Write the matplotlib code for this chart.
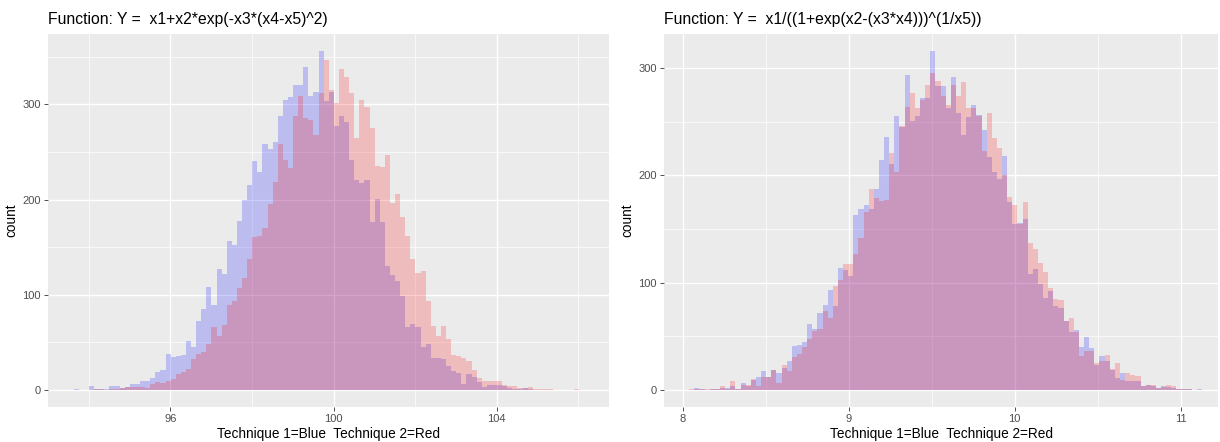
import numpy as np
import matplotlib
matplotlib.use("Agg")
import matplotlib.pyplot as plt

plt.rcParams['font.family'] = ['Liberation Sans', 'DejaVu Sans']

# ---------------- data ----------------
title_left = "Function: Y =  x1+x2*exp(-x3*(x4-x5)^2)"
title_right = "Function: Y =  x1/((1+exp(x2-(x3*x4)))^(1/x5))"
xlabel = "Technique 1=Blue  Technique 2=Red"
ylabel = "count"

left_bin_start = 93.63
left_bin_width = 0.125
left_blue = [1, 0, 0, 4, 1, 1, 1, 4, 4, 2,
             3, 6, 6, 10, 9, 13, 19, 21, 38, 35,
             36, 37, 52, 45, 73, 85, 108, 89, 127, 122,
             156, 152, 178, 200, 215, 240, 229, 258, 253, 260,
             288, 304, 308, 320, 320, 339, 309, 313, 356, 303,
             313, 277, 288, 281, 242, 221, 217, 220, 176, 201,
             176, 130, 121, 115, 99, 66, 69, 66, 45, 48,
             34, 34, 33, 25, 20, 18, 6, 17, 14, 8,
             3, 5, 5, 5, 4, 2, 1, 1, 2, 1,
             0, 0, 0, 0, 0, 0, 0, 0, 0]
left_red = [0, 0, 0, 0, 1, 1, 0, 1, 1, 2,
            3, 3, 3, 3, 2, 6, 8, 7, 10, 12,
            17, 19, 22, 33, 38, 40, 48, 66, 57, 68,
            89, 94, 107, 118, 138, 161, 162, 170, 195, 218,
            258, 241, 233, 288, 309, 286, 284, 268, 312, 346,
            315, 301, 337, 329, 312, 265, 305, 297, 275, 235,
            234, 247, 196, 206, 182, 162, 138, 123, 125, 94,
            67, 57, 67, 54, 37, 36, 34, 30, 21, 13,
            9, 9, 9, 9, 5, 4, 4, 2, 2, 3,
            1, 1, 1, 1, 0, 0, 0, 0, 1]

right_bin_start = 8.039
right_bin_width = 0.0309
right_blue = [0, 2, 1, 0, 1, 1, 2, 2, 4, 1,
              7, 4, 9, 12, 18, 12, 19, 16, 21, 27,
              41, 42, 45, 62, 57, 72, 79, 93, 78, 114,
              112, 106, 163, 169, 172, 169, 187, 214, 236, 211,
              255, 245, 294, 251, 255, 272, 272, 316, 283, 283,
              263, 292, 258, 238, 254, 266, 256, 242, 217, 203,
              197, 218, 175, 155, 156, 159, 108, 113, 99, 86,
              92, 78, 76, 64, 54, 56, 40, 49, 39, 23,
              32, 27, 19, 11, 16, 8, 8, 8, 4, 5,
              4, 2, 4, 3, 2, 1, 1, 1, 0, 1]
right_red = [1, 1, 1, 1, 1, 1, 4, 1, 8, 1,
             5, 5, 10, 4, 12, 12, 19, 7, 23, 18,
             31, 34, 40, 48, 55, 57, 74, 67, 97, 103,
             117, 117, 127, 142, 166, 187, 179, 176, 177, 221,
             203, 246, 264, 277, 263, 270, 284, 295, 288, 274,
             266, 284, 274, 287, 263, 263, 255, 223, 258, 235,
             226, 200, 180, 172, 155, 175, 137, 131, 118, 110,
             95, 85, 84, 64, 67, 54, 32, 36, 36, 25,
             27, 33, 20, 25, 9, 16, 14, 13, 4, 5,
             5, 2, 3, 5, 4, 1, 1, 1, 0, 0]

left_xmajor = [96, 100, 104]
left_xminor = [94, 98, 102, 106]
right_xmajor = [8, 9, 10, 11]
right_xminor = [8.5, 9.5, 10.5]
ymajor = [0, 100, 200, 300]
left_yminor = [50, 150, 250, 350]
right_yminor = [50, 150, 250]

# ---------------- drawing ----------------
W, H = 1220, 442
fig = plt.figure(figsize=(W / 100, H / 100), dpi=100)

PANEL = '#EBEBEB'
BLUE = (0, 0, 1, 0.2)
RED = (1, 0, 0, 0.2)


def make_panel(rect, start, width, blue, red, xlim, ylim, xmaj, xmin, ymin_ticks, title):
    ax = fig.add_axes(rect)
    ax.set_facecolor(PANEL)
    for s in ax.spines.values():
        s.set_visible(False)
    ax.set_xlim(*xlim)
    ax.set_ylim(*ylim)
    ax.set_xticks(xmaj)
    ax.set_xticks(xmin, minor=True)
    ax.set_yticks(ymajor)
    ax.set_yticks(ymin_ticks, minor=True)
    ax.set_xticklabels([str(v) for v in xmaj])
    ax.set_yticklabels([str(v) for v in ymajor])
    ax.grid(which='major', color='white', linewidth=1.0)
    ax.grid(which='minor', color='white', linewidth=0.5)
    ax.set_axisbelow(True)
    ax.tick_params(which='major', length=3, width=0.6, color='#333333',
                   labelcolor='#4D4D4D', labelsize=8, pad=2)
    ax.tick_params(which='minor', length=0)
    edges_b = start + width * np.arange(len(blue))
    edges_r = start + width * np.arange(len(red))
    ax.bar(edges_b, blue, width=width, align='edge', color=BLUE, linewidth=0)
    ax.bar(edges_r, red, width=width, align='edge', color=RED, linewidth=0)
    ax.set_xlabel(xlabel, fontsize=9.8, labelpad=2)
    ax.set_ylabel(ylabel, fontsize=9.8, labelpad=3)
    ax.set_title(title, loc='left', fontsize=11.3, pad=7)
    return ax


make_panel([48 / W, 35 / H, 561 / W, 373 / H], left_bin_start, left_bin_width,
           left_blue, left_red, (93.0, 106.75), (-17.8, 373.8),
           left_xmajor, left_xminor, left_yminor, title_left)
make_panel([664 / W, 35 / H, 554 / W, 373 / H], right_bin_start, right_bin_width,
           right_blue, right_red, (7.887, 11.225), (-15.8, 331.8),
           right_xmajor, right_xminor, right_yminor, title_right)

fig.savefig('out.png', dpi=100, facecolor='white')
